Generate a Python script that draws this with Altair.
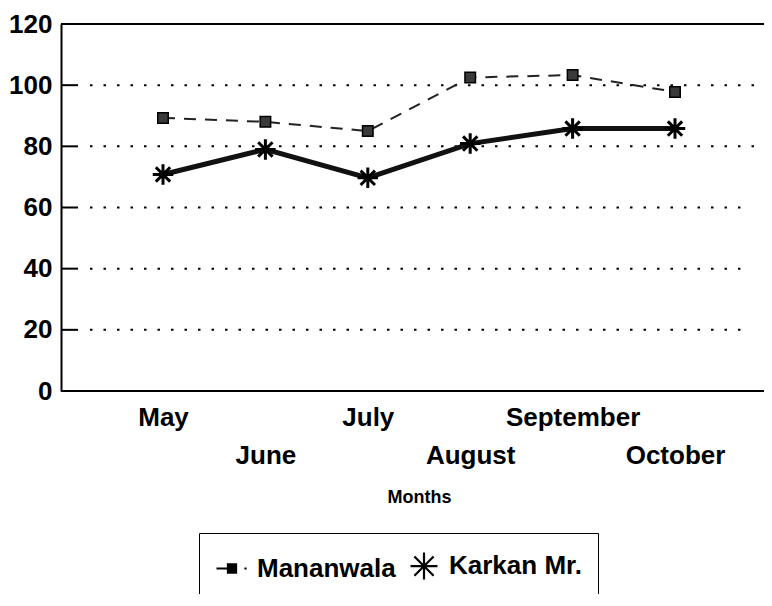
import altair as alt
import pandas as pd

# ---- data ----
months = ["May", "June", "July", "August", "September", "October"]
mananwala = [89.3, 88.0, 85.0, 102.5, 103.3, 97.8]
karkan = [70.8, 79.0, 69.7, 80.9, 85.8, 85.8]
series_names = ["Mananwala", "Karkan Mr."]
y_ticks = [0, 20, 40, 60, 80, 100, 120]
grid_short = [20, 40, 60]
grid_long = [80, 100]
inner_ticks = [20, 40, 60, 80, 100]
frame_lines = [0, 120]

df = pd.DataFrame({
    "month": months * 2,
    "value": mananwala + karkan,
    "series": [series_names[0]] * len(months) + [series_names[1]] * len(months),
})

FONT = "Liberation Sans"
W, H = 703, 367

x_axis = alt.Axis(
    title="Months", titleFont=FONT, titleFontSize=18, titleFontWeight="bold",
    titleColor="black", titleX=358, titleY=106, titleAlign="center",
    titleBaseline="middle",
    labelFont=FONT, labelFontSize=26, labelFontWeight="bold", labelColor="black",
    labelPadding=13, labelBaseline="top", labelLineHeight=38, labelAngle=0,
    labelOverlap=False, labelBound=False,
    labelExpr="indexof(['June','August','October'], datum.value) >= 0 ? ['', datum.label] : datum.label",
    ticks=False, grid=False, domain=False,
)
y_axis = alt.Axis(
    title=None, values=y_ticks, labelFont=FONT, labelFontSize=26,
    labelFontWeight="bold", labelColor="black", labelPadding=9,
    ticks=False, grid=False, domainColor="black", domainWidth=2,
    labelOverlap=False,
)
x_scale = alt.Scale(type="point", domain=months, range=[102, 614], padding=0)
y_scale = alt.Scale(domain=[0, 120], nice=False, zero=True)

X = alt.X("month:N", sort=months, scale=x_scale, axis=x_axis)


def Y(field):
    return alt.Y(f"{field}:Q", scale=y_scale, axis=y_axis)


base = alt.Chart(df)

# gridlines (dotted), inward ticks, frame lines (x axis line and top border)
grid_s = alt.Chart(pd.DataFrame({"v": grid_short})).mark_rule(
    color="black", strokeWidth=2, strokeDash=[2.5, 11]
).encode(y=Y("v"), x=alt.value(29), x2=alt.value(684))
grid_l = alt.Chart(pd.DataFrame({"v": grid_long})).mark_rule(
    color="black", strokeWidth=2, strokeDash=[2.5, 11]
).encode(y=Y("v"), x=alt.value(29), x2=alt.value(W))
ticks = alt.Chart(pd.DataFrame({"v": inner_ticks})).mark_rule(
    color="black", strokeWidth=2
).encode(y=Y("v"), x=alt.value(0), x2=alt.value(17))
frame = alt.Chart(pd.DataFrame({"v": frame_lines})).mark_rule(
    color="black", strokeWidth=2
).encode(y=Y("v"), x=alt.value(0), x2=alt.value(W))

# lines
line_m = base.transform_filter(alt.datum.series == series_names[0]).mark_line(
    color="#222", strokeWidth=2, strokeDash=[12, 9]
).encode(x=X, y=Y("value"))
line_k = base.transform_filter(alt.datum.series == series_names[1]).mark_line(
    color="#111", strokeWidth=5
).encode(x=X, y=Y("value"))

# points
ast_chart = "M-1,0H1M0,-1V1M-0.7,-0.7L0.7,0.7M-0.7,0.7L0.7,-0.7"
pts_m = base.transform_filter(alt.datum.series == series_names[0]).mark_point(
    shape="square", size=110, filled=True, fill="#3a3a3a", stroke="black",
    strokeWidth=1.5, opacity=1
).encode(x=X, y=Y("value"))
pts_k = base.transform_filter(alt.datum.series == series_names[1]).mark_point(
    shape=ast_chart, size=420, filled=False, stroke="black", strokeWidth=3,
    opacity=1
).encode(x=X, y=Y("value"))

# legend (symbols only, no marks drawn); the square is hatched solid with strokes
path_m = ("M-1,0H-0.26"
          "M-0.26,-0.26H0.26V0.26H-0.26Z"
          "M-0.26,-0.13H0.26M-0.26,0H0.26M-0.26,0.13H0.26"
          "M0.8,0H0.94")
path_k = "M-0.87,0H0.87M0,-0.87V0.87M-0.62,-0.62L0.62,0.62M-0.62,0.62L0.62,-0.62"
legend_layer = base.transform_filter("false").mark_point(
    filled=False, stroke="black", opacity=1
).encode(
    x=X, y=Y("value"),
    shape=alt.Shape(
        "series:N",
        scale=alt.Scale(domain=series_names, range=[path_m, path_k]),
        legend=alt.Legend(
            title=None, orient="none", legendX=138, legendY=509,
            direction="horizontal", strokeColor="black", padding=16,
            symbolSize=961, symbolStrokeColor="black", symbolStrokeWidth=2.2,
            symbolOpacity=1,
            labelFont=FONT, labelFontSize=26, labelFontWeight="bold",
            labelColor="black", labelOffset=8, columnPadding=10,
            labelLimit=0,
        ),
    ),
)

chart = alt.layer(
    grid_s, grid_l, ticks, frame, line_m, line_k, pts_m, pts_k, legend_layer
).properties(
    width=W, height=H,
    autosize=alt.AutoSizeParams(type="none"),
    padding={"left": 53, "top": 16, "right": 0, "bottom": 203},
).configure_view(stroke=None)

chart.save("out.html", embed_options={"renderer": "svg", "actions": False})
